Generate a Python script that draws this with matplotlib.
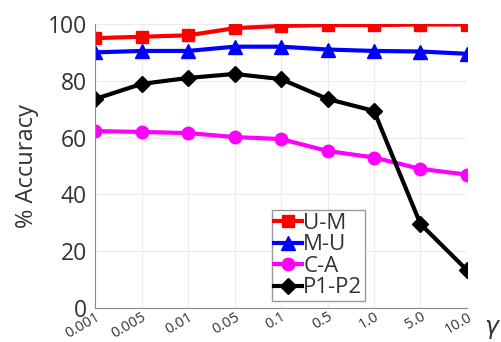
import matplotlib
matplotlib.use("Agg")
import matplotlib.pyplot as plt
import numpy as np

gammas = ["0.001", "0.005", "0.01", "0.05", "0.1", "0.5", "1.0", "5.0", "10.0"]
um = [95.0, 95.5, 96.0, 98.5, 99.3, 99.6, 99.6, 99.8, 99.8]
mu = [90.0, 90.5, 90.5, 92.0, 92.0, 91.0, 90.5, 90.3, 89.5]
ca = [62.3, 62.0, 61.6, 60.2, 59.5, 55.3, 53.0, 49.0, 47.0]
p1p2 = [73.6, 78.9, 81.0, 82.4, 80.6, 73.6, 69.4, 29.6, 13.4]
yticks = [0, 20, 40, 60, 80, 100]

plt.rcParams['font.family'] = ['Open Sans', 'DejaVu Sans']
fig = plt.figure(figsize=(5.01, 3.42), dpi=100)
ax = fig.add_axes([0.19, 0.099, 0.742, 0.831])
x = np.arange(len(gammas))

ax.plot(x, um, color='#ff0000', marker='s', lw=3, ms=8, label='U-M')
ax.plot(x, mu, color='#0000ff', marker='^', lw=3, ms=10, label='M-U')
ax.plot(x, ca, color='#ff00ff', marker='o', lw=3, ms=9, label='C-A')
ax.plot(x, p1p2, color='#000000', marker='D', lw=3, ms=8, label='P1-P2')

ax.set_xlim(0, len(gammas) - 1)
ax.set_ylim(0, 100)
ax.set_yticks(yticks)
ax.set_xticks(x)
ax.set_xticklabels(gammas, rotation=30, fontsize=10.5, color='#333333',
                   ha='right', va='top', rotation_mode='anchor')
ax.tick_params(axis='y', labelsize=16.5, labelcolor='#333333', length=0, pad=6)
ax.tick_params(axis='x', length=0, pad=1)
ax.grid(True, color='#ececec', lw=0.8)
for s in ['top', 'right']:
    ax.spines[s].set_visible(False)
for s in ['left', 'bottom']:
    ax.spines[s].set_color('#888888')
    ax.spines[s].set_linewidth(0.8)
ax.set_ylabel('% Accuracy', fontsize=17, color='#333333', labelpad=6)
ax.text(1.045, -0.03, r'$\gamma$', transform=ax.transAxes, fontsize=17,
        va='top', ha='left', color='#333333')

leg = ax.legend(loc='lower left', bbox_to_anchor=(0.475, 0.025), fontsize=16,
                handlelength=1.25, handletextpad=0.05, borderpad=0.12,
                labelspacing=0.02, fancybox=False, framealpha=1, borderaxespad=0)
leg.get_frame().set_edgecolor('#999999')
for t in leg.get_texts():
    t.set_color('#333333')

fig.savefig('out.png', dpi=100)
